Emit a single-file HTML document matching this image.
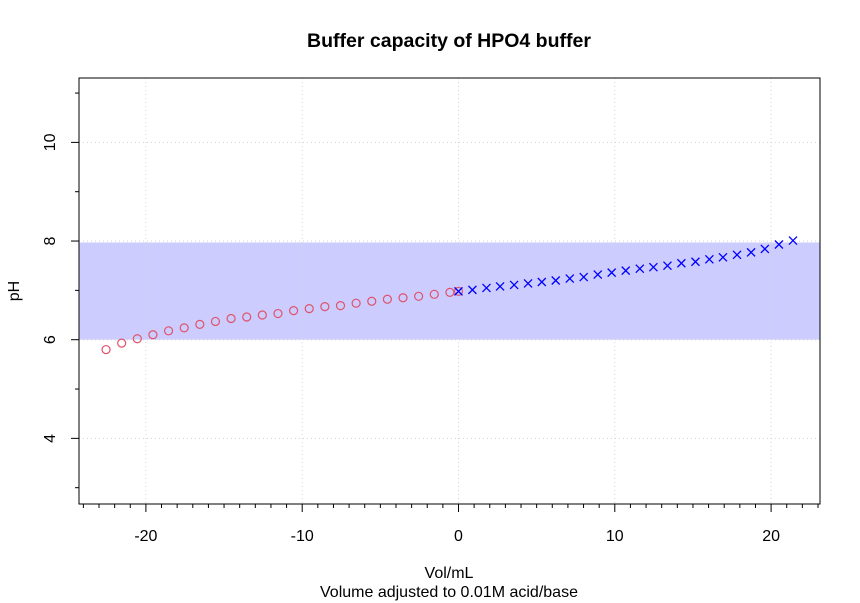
<!DOCTYPE html>
<html><head><meta charset="utf-8"><style>
body{margin:0;background:#fff}
svg{display:block;font-family:"Liberation Sans",sans-serif}
</style></head><body>
<svg id="c" width="860" height="603" xmlns="http://www.w3.org/2000/svg">
<text x="449" y="47" text-anchor="middle" font-size="19.5" font-weight="bold">Buffer capacity of HPO4 buffer</text>
<text x="449" y="578" text-anchor="middle" font-size="16">Vol/mL</text>
<text x="449" y="597" text-anchor="middle" font-size="16">Volume adjusted to 0.01M acid/base</text>
<text transform="translate(19,291) rotate(-90)" text-anchor="middle" font-size="16">pH</text>
<g id="band"></g><g id="grid"></g><g id="marks"></g><g id="axes"></g>
</svg>
<script>
const bandRange=[6,7.97];
const xTicks=[-20,-10,0,10,20];
const yTicks=[4,6,8,10];
const acidX=[-22.55,-21.55,-20.55,-19.55,-18.55,-17.55,-16.55,-15.55,-14.55,-13.55,-12.55,-11.55,-10.55,-9.55,-8.55,-7.55,-6.55,-5.55,-4.55,-3.55,-2.55,-1.55,-0.55,0];
const acidPH=[5.80,5.93,6.02,6.10,6.18,6.24,6.31,6.37,6.43,6.46,6.50,6.53,6.59,6.63,6.67,6.69,6.74,6.78,6.82,6.85,6.88,6.92,6.96,6.98];
const baseX=[0,0.89,1.79,2.66,3.56,4.45,5.33,6.22,7.12,8.01,8.91,9.8,10.7,11.6,12.47,13.37,14.26,15.16,16.05,16.92,17.82,18.72,19.6,20.5,21.4];
const basePH=[6.98,7.01,7.05,7.08,7.11,7.14,7.17,7.20,7.24,7.27,7.32,7.36,7.40,7.44,7.47,7.50,7.55,7.58,7.63,7.67,7.72,7.77,7.84,7.93,8.01];
const L=79,R=820,T=78,B=504;
const sx=v=>458.5+v*15.63;
const sy=v=>339.7-(v-6)*49.33;
const NS="http://www.w3.org/2000/svg";
function mk(p,t,a){const e=document.createElementNS(NS,t);for(const k in a)e.setAttribute(k,a[k]);p.appendChild(e);return e;}
const band=document.getElementById('band'),grid=document.getElementById('grid'),marks=document.getElementById('marks'),axes=document.getElementById('axes');
const b=mk(band,'rect',{x:L,y:sy(bandRange[1]),width:R-L,height:sy(bandRange[0])-sy(bandRange[1]),fill:'#ccccff'});


xTicks.forEach(v=>{const g=mk(grid,'line',{x1:sx(v),x2:sx(v),y1:T,y2:B,stroke:'#d3d3d3','stroke-dasharray':'1 3'});

});
yTicks.forEach(v=>{const g=mk(grid,'line',{x1:L,x2:R,y1:sy(v),y2:sy(v),stroke:'#d3d3d3','stroke-dasharray':'1 3'});

});
acidX.forEach((x,i)=>{const c=mk(marks,'circle',{cx:sx(x),cy:sy(acidPH[i]),r:4,fill:'none',stroke:'#DF536B','stroke-width':1.2});

});
baseX.forEach((x,i)=>{const cx=sx(x),cy=sy(basePH[i]),s=4;const p=mk(marks,'path',{d:`M${cx-s},${cy-s}L${cx+s},${cy+s}M${cx-s},${cy+s}L${cx+s},${cy-s}`,stroke:'#0000ff','stroke-width':1.3});

});
const box=mk(axes,'rect',{x:L,y:T,width:R-L,height:B-T,fill:'none',stroke:'#000'});


for(let v=-24;v<=23;v++){const maj=v%10===0;mk(axes,'line',{x1:sx(v),x2:sx(v),y1:B,y2:B+(maj?8:4),stroke:'#000'});}
xTicks.forEach(v=>{const t=mk(axes,'text',{x:sx(v),y:541,'text-anchor':'middle','font-size':16});t.textContent=v;

});
for(let v=3;v<=11;v++){const maj=v%2===0;mk(axes,'line',{x1:L,x2:L-(maj?8:4),y1:sy(v),y2:sy(v),stroke:'#000'});}
yTicks.forEach(v=>{const t=mk(axes,'text',{transform:`translate(55,${sy(v)}) rotate(-90)`,'text-anchor':'middle','font-size':16});t.textContent=v;

});
</script>
</body></html>
